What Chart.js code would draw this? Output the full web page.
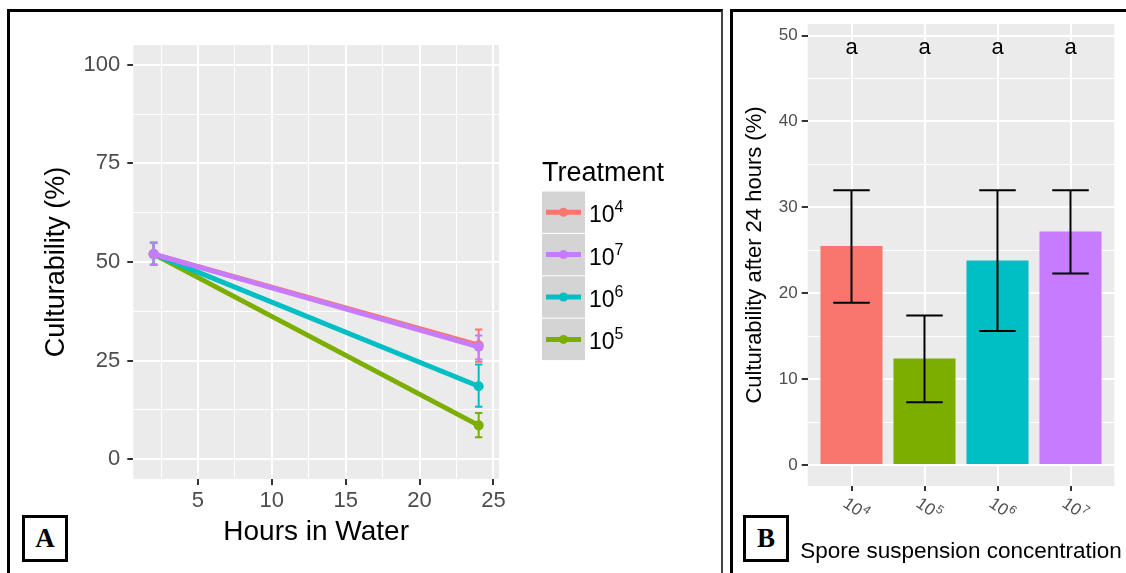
<!DOCTYPE html>
<html lang="en">
<head>
<meta charset="UTF-8">
<title>Culturability</title>
<script src="https://cdn.jsdelivr.net/npm/chart.js"></script>
<style>
    body {
        margin: 0;
        background: #fff;
        width: 1126px;
        height: 573px;
        overflow: hidden;
        position: relative;
        font-family: "Liberation Sans", Arial, sans-serif;
    }
    canvas { position: absolute; top: 0; }
    #chartA { left: 0; }
    #chartB { left: 733px; }
    .panel {
        position: absolute;
        top: 9px;
        height: 620px;
        border: 3px solid #000;
        box-sizing: border-box;
        pointer-events: none;
    }
    #panelA { left: 7px; width: 716px; border-right: 2px solid #444; }
    #panelB { left: 730px; width: 430px; }
    .tag {
        position: absolute;
        width: 46px;
        height: 47px;
        border: 3px solid #000;
        box-sizing: border-box;
        background: #fff;
        font-family: "Liberation Serif", "Times New Roman", serif;
        font-weight: bold;
        font-size: 27px;
        line-height: 41px;
        text-align: center;
    }
</style>
</head>
<body>
<canvas id="chartA" width="720" height="573"></canvas>
<canvas id="chartB" width="393" height="573"></canvas>
<div class="panel" id="panelA"></div>
<div class="panel" id="panelB"></div>
<div class="tag" style="left:22px; top:515px;">A</div>
<div class="tag" style="left:743px; top:515px;">B</div>

<script>
// ---- Panel A: culturability over time ----
const hours = [2, 24];
const treatmentExp = ["4", "7", "6", "5"];          // legend order: 10^4, 10^7, 10^6, 10^5
const treatmentColors = ["#F8766D", "#C77CFF", "#00BFC4", "#7CAE00"];
const mean1e4 = [52.0, 28.9], low1e4 = [49.3, 24.7], high1e4 = [54.9, 32.9];
const mean1e7 = [52.0, 28.5], low1e7 = [49.3, 25.3], high1e7 = [54.9, 31.4];
const mean1e6 = [52.0, 18.5], low1e6 = [49.3, 13.3], high1e6 = [54.9, 24.0];
const mean1e5 = [52.0, 8.6],  low1e5 = [49.3, 5.6],  high1e5 = [54.9, 11.7];
const hoursMajor = [5, 10, 15, 20, 25];
const hoursMinor = [2.5, 7.5, 12.5, 17.5, 22.5];
const cultMajor = [0, 25, 50, 75, 100];
const cultMinor = [12.5, 37.5, 62.5, 87.5];

// ---- Panel B: culturability after 24 h ----
const concExp = ["4", "5", "6", "7"];
const concColors = ["#F8766D", "#7CAE00", "#00BFC4", "#C77CFF"];
const cult24 = [25.5, 12.4, 23.8, 27.2];
const cult24Low = [18.9, 7.3, 15.6, 22.3];
const cult24High = [32.0, 17.4, 32.0, 32.0];
const groupLetters = ["a", "a", "a", "a"];
const pctMajor = [0, 10, 20, 30, 40, 50];
const pctMinor = [5, 15, 25, 35, 45];

const FONT = '"Liberation Sans", Arial, sans-serif';
const seriesMeans = [mean1e4, mean1e7, mean1e6, mean1e5];
const seriesLow = [low1e4, low1e7, low1e6, low1e5];
const seriesHigh = [high1e4, high1e7, high1e6, high1e5];

const has = (arr, v) => arr.some(a => Math.abs(a - v) < 1e-6);

const panelBg = {
    id: "panelBg",
    beforeDraw(chart) {
        const { ctx, chartArea: a } = chart;
        ctx.save();
        ctx.fillStyle = "#EBEBEB";
        ctx.fillRect(a.left, a.top, a.right - a.left, a.bottom - a.top);
        ctx.restore();
    }
};

function gridScale(majors, minors, opts) {
    return Object.assign({
        type: "linear",
        border: { display: false },
        afterBuildTicks: s => { s.ticks = majors.concat(minors).sort((a, b) => a - b).map(v => ({ value: v })); },
        grid: {
            color: "#fff",
            lineWidth: c => has(majors, c.tick.value) ? 2 : 1,
            tickColor: c => has(majors, c.tick.value) ? "#333" : "rgba(0,0,0,0)",
            tickLength: 6,
            drawTicks: true
        },
        ticks: {
            autoSkip: false,
            maxRotation: 0,
            color: "#4D4D4D",
            font: { size: 22, family: FONT },
            padding: 3,
            callback: v => has(majors, v) ? String(v) : ""
        }
    }, opts);
}

// error bars for the line chart
const errorBarsA = {
    id: "errorBarsA",
    beforeDatasetsDraw(chart) {
        const { ctx, scales: { x, y } } = chart;
        ctx.save();
        ctx.lineWidth = 2;
        [0, 3, 2, 1].forEach(i => {
            ctx.strokeStyle = treatmentColors[i];
            hours.forEach((h, j) => {
                const px = x.getPixelForValue(h);
                const hw = x.getPixelForValue(h + 0.25) - px;
                const top = y.getPixelForValue(seriesHigh[i][j]);
                const bot = y.getPixelForValue(seriesLow[i][j]);
                ctx.beginPath();
                ctx.moveTo(px, top); ctx.lineTo(px, bot);
                ctx.moveTo(px - hw, top); ctx.lineTo(px + hw, top);
                ctx.moveTo(px - hw, bot); ctx.lineTo(px + hw, bot);
                ctx.stroke();
            });
        });
        ctx.restore();
    }
};

// ggplot-like legend with grey keys
const legendA = {
    id: "legendA",
    afterDraw(chart) {
        const ctx = chart.ctx;
        ctx.save();
        ctx.fillStyle = "#000";
        ctx.font = "27px " + FONT;
        ctx.textBaseline = "alphabetic";
        ctx.textAlign = "left";
        ctx.fillText("Treatment", 542, 181);
        const keyX = 542, keyW = 43, keyH = 42.4, top0 = 191;
        chart.data.datasets.forEach((ds, i) => {
            const y0 = top0 + i * keyH, cy = y0 + keyH / 2;
            ctx.fillStyle = "#D4D4D4";
            ctx.fillRect(keyX, y0 + 0.5, keyW, keyH - 1);
            ctx.strokeStyle = ds.borderColor;
            ctx.lineWidth = 5;
            ctx.beginPath();
            ctx.moveTo(keyX + 4, cy); ctx.lineTo(keyX + keyW - 4, cy);
            ctx.stroke();
            ctx.fillStyle = ds.borderColor;
            ctx.beginPath();
            ctx.arc(keyX + keyW / 2, cy, 4.5, 0, Math.PI * 2);
            ctx.fill();
            ctx.fillStyle = "#000";
            ctx.font = "23px " + FONT;
            ctx.fillText("10", 589, cy + 10);
            const w = ctx.measureText("10").width;
            ctx.font = "16px " + FONT;
            ctx.fillText(treatmentExp[i], 589 + w, cy);
        });
        ctx.restore();
    }
};

new Chart(document.getElementById("chartA"), {
    type: "line",
    data: {
        datasets: treatmentExp.map((e, i) => ({
            label: "10^" + e,
            data: hours.map((h, j) => ({ x: h, y: seriesMeans[i][j] })),
            borderColor: treatmentColors[i],
            backgroundColor: treatmentColors[i],
            borderWidth: 5,
            pointRadius: 5,
            pointBorderWidth: 0,
            order: [1, 0, 2, 3][i]
        }))
    },
    options: {
        responsive: false,
        animation: false,
        devicePixelRatio: 1,
        layout: { padding: { top: 45, right: 221, left: 0, bottom: 0 } },
        plugins: { legend: { display: false }, tooltip: { enabled: false } },
        scales: {
            x: gridScale(hoursMajor, hoursMinor, {
                min: 0.625, max: 25.375,
                afterFit: s => { s.height = 94; },
                title: { display: true, text: "Hours in Water", color: "#000",
                         font: { size: 28, family: FONT }, padding: { top: 0, bottom: 24 } }
            }),
            y: gridScale(cultMajor, cultMinor, {
                min: -5, max: 105,
                afterFit: s => { s.width = 133.3; },
                ticks: { autoSkip: false, color: "#4D4D4D", font: { size: 22, family: FONT }, padding: 7,
                         callback: v => has(cultMajor, v) ? String(v) : "" },
                title: { display: true, text: "Culturability (%)", color: "#000",
                         font: { size: 27, family: FONT }, padding: { top: 40, bottom: 0 } }
            })
        }
    },
    plugins: [panelBg, errorBarsA, legendA]
});

// ---- Panel B ----
const extrasB = {
    id: "extrasB",
    afterDatasetsDraw(chart) {
        const { ctx, scales: { x, y } } = chart;
        ctx.save();
        ctx.strokeStyle = "#000";
        ctx.lineWidth = 2;
        cult24.forEach((v, i) => {
            const px = x.getPixelForValue(i + 1);
            const hw = x.getPixelForValue(i + 1.25) - px;
            const top = y.getPixelForValue(cult24High[i]);
            const bot = y.getPixelForValue(cult24Low[i]);
            ctx.beginPath();
            ctx.moveTo(px, top); ctx.lineTo(px, bot);
            ctx.moveTo(px - hw, top); ctx.lineTo(px + hw, top);
            ctx.moveTo(px - hw, bot); ctx.lineTo(px + hw, bot);
            ctx.stroke();
        });
        ctx.fillStyle = "#000";
        ctx.font = "22px " + FONT;
        ctx.textAlign = "center";
        ctx.textBaseline = "middle";
        groupLetters.forEach((t, i) => {
            ctx.fillText(t, x.getPixelForValue(i + 1), y.getPixelForValue(48.6));
        });
        ctx.restore();
    },
    afterDraw(chart) {
        const { ctx, scales: { x }, chartArea } = chart;
        ctx.save();
        // axis title (wider than the panel, so drawn here instead of the scale title)
        ctx.fillStyle = "#000";
        ctx.font = "22.5px " + FONT;
        ctx.textAlign = "center";
        ctx.textBaseline = "alphabetic";
        ctx.fillText("Spore suspension concentration", (chartArea.left + chartArea.right) / 2, 558);
        // rotated tick labels (clockwise)
        ctx.fillStyle = "#4D4D4D";
        ctx.textAlign = "left";
        concExp.forEach((e, i) => {
            const px = x.getPixelForValue(i + 1);
            ctx.save();
            ctx.translate(px - 2, chartArea.bottom + 9);
            ctx.rotate(35 * Math.PI / 180);
            ctx.font = "17px " + FONT;
            ctx.fillText("10", 0, 13);
            const w = ctx.measureText("10").width;
            ctx.font = "12px " + FONT;
            ctx.fillText(e, w + 0.5, 6);
            ctx.restore();
        });
        ctx.restore();
    }
};

new Chart(document.getElementById("chartB"), {
    type: "bar",
    data: {
        datasets: [{
            data: cult24.map((v, i) => ({ x: i + 1, y: v })),
            backgroundColor: concColors,
            borderWidth: 0,
            barPercentage: 0.85,
            categoryPercentage: 1
        }]
    },
    options: {
        responsive: false,
        animation: false,
        devicePixelRatio: 1,
        layout: { padding: { top: 24, right: 11.7, left: 0, bottom: 0 } },
        plugins: { legend: { display: false }, tooltip: { enabled: false } },
        scales: {
            x: gridScale([1, 2, 3, 4], [], {
                min: 0.4, max: 4.6,
                offset: false,
                afterFit: s => { s.height = 87; },
                grid: { color: "#fff", lineWidth: 2, tickColor: "#333", tickLength: 5, offset: false },
                ticks: { autoSkip: false, maxRotation: 0, callback: () => "" }
            }),
            y: gridScale(pctMajor, pctMinor, {
                min: -2.45, max: 51.35,
                afterFit: s => { s.width = 74.7; },
                ticks: { autoSkip: false, color: "#4D4D4D", font: { size: 17, family: FONT }, padding: 4,
                         callback: v => has(pctMajor, v) ? String(v) : "" },
                title: { display: true, text: "Culturability after 24 hours (%)", color: "#000",
                         font: { size: 22, family: FONT }, padding: { top: 9, bottom: 0 } }
            })
        }
    },
    plugins: [panelBg, extrasB]
});
</script>
</body>
</html>
